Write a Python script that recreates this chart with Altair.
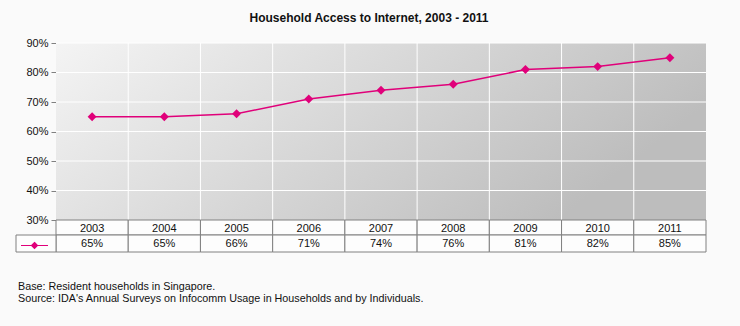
import altair as alt
import pandas as pd

years = ["2003", "2004", "2005", "2006", "2007", "2008", "2009", "2010", "2011"]
values = [65, 65, 66, 71, 74, 76, 81, 82, 85]
y_ticks = [40, 50, 60, 70, 80, 90]
title_text = "Household Access to Internet, 2003 - 2011"
notes = ["Base: Resident households in Singapore.",
         "Source: IDA's Annual Surveys on Infocomm Usage in Households and by Individuals."]

PINK = "#e0007a"
GRID = "#808080"
FONT = "Liberation Sans"

df = pd.DataFrame({"year": years, "value": values, "series": "Access"})
df["label"] = [f"{v}%" for v in values]
grid_y = pd.DataFrame({"v": y_ticks})
grid_x = pd.DataFrame({"year": years[1:]})
one = pd.DataFrame({"a": [0]})
note_df = pd.DataFrame({"t": ["\n".join(notes)]})

xscale = alt.Scale(type="band", domain=years, paddingInner=0, paddingOuter=0)
yscale = alt.Scale(domain=[30, 90], nice=False, zero=False)
yaxis = alt.Axis(values=[30] + y_ticks, tickCount=7, labelExpr="datum.value + '%'", grid=False,
                 labelOverlap=False, labelBound=False,
                 domainColor=GRID, tickColor=GRID, tickSize=5, labelPadding=3,
                 labelFontSize=11, labelColor="#111", labelFont=FONT, title=None)

X = alt.X("year:O", scale=xscale, axis=None, sort=years)
Y = alt.Y("value:Q", scale=yscale, axis=yaxis)

bg = alt.Chart(one).mark_rect(
    fill=alt.LinearGradient(
        gradient="linear",
        stops=[alt.GradientStop(color="#f4f4f4", offset=0),
               alt.GradientStop(color="#bdbdbd", offset=1)],
        x1=0, y1=0, x2=1, y2=0.35),
    stroke=None,
).encode(x=alt.value(0), x2=alt.value("width"), y=alt.value(0), y2=alt.value("height"))

hgrid = alt.Chart(grid_y).mark_rule(color="white", strokeWidth=1).encode(
    y=alt.Y("v:Q", scale=yscale, axis=yaxis))

vgrid = alt.Chart(grid_x).mark_rule(color="white", strokeWidth=1).encode(
    x=alt.X("year:O", scale=xscale, axis=None, sort=years, bandPosition=0))

line = alt.Chart(df).mark_line(strokeWidth=1.5).encode(
    x=X,
    y=Y,
    color=alt.Color("series:N", scale=alt.Scale(range=[PINK]),
                    legend=alt.Legend(orient="none", legendX=-36, legendY=188, title=None,
                                      labelExpr="''", padding=0, labelLimit=1,
                                      symbolType="M-1,0H1M0,-0.22L0.22,0L0,0.22L-0.22,0Z",
                                      symbolSize=729, symbolStrokeWidth=1.2,
                                      symbolFillColor=PINK, symbolStrokeColor=PINK)),
)

pts = alt.Chart(df).mark_point(shape="diamond", filled=True, size=80, opacity=1).encode(
    x=X, y=Y,
    color=alt.Color("series:N", scale=alt.Scale(range=[PINK])))

row1 = alt.Chart(df).mark_rect(fill="#fdfdfd", stroke=GRID, strokeWidth=1).encode(
    x=X, y=alt.value(177), y2=alt.value(192))
row2 = alt.Chart(df).mark_rect(fill="#fdfdfd", stroke=GRID, strokeWidth=1).encode(
    x=X, y=alt.value(192), y2=alt.value(209))
legcell = alt.Chart(one).mark_rect(fill="#fdfdfd", stroke=GRID, strokeWidth=1).encode(
    x=alt.value(-40), x2=alt.value(0), y=alt.value(192), y2=alt.value(209))

t_year = alt.Chart(df).mark_text(font=FONT, fontSize=11, color="#111", baseline="alphabetic").encode(
    x=X, y=alt.value(189), text="year:N")
t_val = alt.Chart(df).mark_text(font=FONT, fontSize=11, color="#111", baseline="alphabetic").encode(
    x=X, y=alt.value(204), text="label:N")

note = alt.Chart(note_df).mark_text(font=FONT, fontSize=10.75, color="#111", align="left",
                                    baseline="alphabetic", lineBreak="\n", lineHeight=12).encode(
    x=alt.value(-38), y=alt.value(247), text="t:N")

chart = alt.layer(bg, hgrid, vgrid, line, pts, row1, row2, legcell, t_year, t_val, note).properties(
    width=650, height=177,
    title=alt.TitleParams(title_text, font=FONT, fontSize=12, fontWeight="bold", color="#111",
                          anchor="middle", dx=-12, offset=12),
    autosize=alt.AutoSizeParams(type="none"),
    padding={"left": 56, "top": 43, "right": 34, "bottom": 106},
    background="#fafafa",
).configure_view(stroke=None).resolve_scale(color="shared")

chart.save("out.html", embed_options={"renderer": "svg", "actions": False})
